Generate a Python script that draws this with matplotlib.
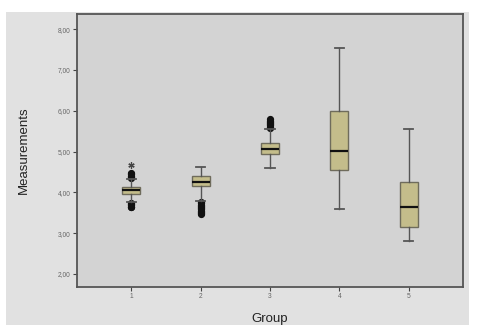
import matplotlib
matplotlib.use("Agg")
import matplotlib.pyplot as plt
from matplotlib.patches import Rectangle

plt.rcParams["font.family"] = ["Liberation Sans", "DejaVu Sans"]

# Summary statistics per group
groups = [1, 2, 3, 4, 5]
whisker_low = [3.77, 3.79, 4.59, 3.59, 2.80]
q1 = [3.97, 4.15, 4.93, 4.55, 3.15]
median = [4.05, 4.26, 5.07, 5.02, 3.63]
q3 = [4.12, 4.41, 5.20, 5.99, 4.25]
whisker_high = [4.32, 4.63, 5.55, 7.54, 5.54]

# Outlying observations (circles) and extreme values (stars)
outliers = [
    [3.74, 3.71, 3.68, 3.65, 3.63, 4.35, 4.38, 4.41, 4.44, 4.47],
    [3.76, 3.73, 3.70, 3.67, 3.64, 3.61, 3.58, 3.55, 3.52, 3.49, 3.47],
    [5.58, 5.61, 5.64, 5.67, 5.70, 5.73, 5.76, 5.79],
    [],
    [],
]
extremes = [[4.66], [], [], [], []]

ytick_values = [2, 3, 4, 5, 6, 7, 8]
ytick_labels = ["2,00", "3,00", "4,00", "5,00", "6,00", "7,00", "8,00"]

fig = plt.figure(figsize=(4.78, 3.35), dpi=100, facecolor="white")
fig.patches.append(Rectangle((6 / 478, 1 - 325 / 335), 463 / 478, 313 / 335,
                             transform=fig.transFigure, facecolor="#e1e1e1",
                             edgecolor="none", zorder=-10))

ax = fig.add_axes([77 / 478, 1 - 287 / 335, 386 / 478, 273 / 335])
ax.set_facecolor("#d3d3d3")

stats = []
for i in range(len(groups)):
    stats.append(dict(whislo=whisker_low[i], q1=q1[i], med=median[i],
                      q3=q3[i], whishi=whisker_high[i], fliers=[]))

ax.bxp(stats, positions=groups, widths=0.26, patch_artist=True,
       showfliers=False,
       boxprops=dict(facecolor="#c4bd8b", edgecolor="#6f6c5c", linewidth=1.0),
       medianprops=dict(color="#111111", linewidth=1.6),
       whiskerprops=dict(color="#555555", linewidth=1.0),
       capprops=dict(color="#555555", linewidth=1.3),
       capwidths=0.13)

for g, vals in zip(groups, outliers):
    if vals:
        ax.plot([g] * len(vals), vals, linestyle="none", marker="o",
                markersize=4.2, color="#111111", zorder=1)
for g, vals in zip(groups, extremes):
    if vals:
        ax.plot([g] * len(vals), vals, linestyle="none", marker=(6, 2, 0),
                markersize=4.5, markeredgewidth=0.9, color="#444444", zorder=3)

ax.set_xlim(0.22, 5.78)
ax.set_ylim(1.68, 8.37)
ax.set_xticks(groups)
ax.set_xticklabels([str(g) for g in groups])
ax.set_yticks(ytick_values)
ax.set_yticklabels(ytick_labels)
ax.tick_params(axis="both", labelsize=4.8, labelcolor="#666666", color="#444444",
               length=3, width=0.8, pad=1.5)

for side in ["left", "right", "top", "bottom"]:
    ax.spines[side].set_color("#555555")
    ax.spines[side].set_linewidth(1.3)

ax.set_ylabel("Measurements", fontsize=9.5, color="#222222", labelpad=20)
ax.set_xlabel("Group", fontsize=9.5, color="#222222", labelpad=9)

fig.savefig("out.png", dpi=100, facecolor="white")
